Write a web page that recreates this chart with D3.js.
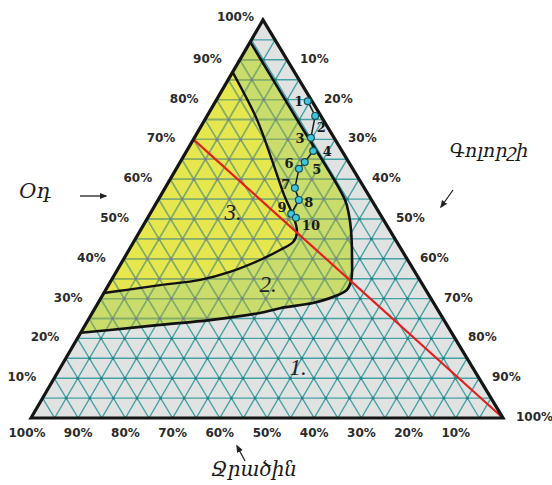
<!DOCTYPE html>
<html>
<head>
<meta charset="utf-8">
<script src="https://cdn.jsdelivr.net/npm/d3@7"></script>
<style>
  body { margin: 0; background: #fff; }
  svg { display: block; }
</style>
</head>
<body>
<div class="chart"></div>
<script>
// ternary diagram: air (Օդ) / vapour (Գոլորշի) / water (Ջրածին), values in %
var tickValues = [10, 20, 30, 40, 50, 60, 70, 80, 90, 100];
var bottomTicks = [100, 90, 80, 70, 60, 50, 40, 30, 20, 10];

// samples 1..10
var sampleNames = ["1", "2", "3", "4", "5", "6", "7", "8", "9", "10"];
var sampleAir   = [79.6, 75.9, 70.4, 67.1, 64.3, 62.6, 57.8, 54.8, 51.3, 50.3];
var sampleVapor = [19.5, 22.9, 24.7, 26.8, 26.4, 26.0, 27.5, 29.8, 29.9, 31.4];

// outer border of zone 2
var outerAir   = [94.5, 75, 54.8, 51.0, 47.2, 40.5, 34.7, 32.2, 30.4, 28.9, 27.6, 26.4, 24.6, 23.4, 22.1, 21.4];
var outerVapor = [0, 19.5, 39.6, 42.3, 44.6, 48.1, 50.8, 51.1, 49.0, 45.5, 39.2, 35.5, 25.8, 15.8, 5.9, 0];

// border of zone 3
var innerAir   = [86.9, 74.9, 64.8, 56.0, 51.0, 46.7, 44.2, 42.2, 39.7, 36.7, 34.7, 33.4, 32.2, 31.4];
var innerVapor = [0, 11.1, 19.2, 26.1, 30.4, 33.4, 33.8, 32.0, 29.0, 24.1, 18.8, 10.9, 4.5, 0];

// red line
var redAir = [70, 0];
var redVapor = [0, 100];

// zone labels
var zoneNames = ["1.", "2.", "3."];
var zoneAir   = [12.6, 33.4, 51.5];
var zoneVapor = [50.4, 33.8, 17.5];

var svgWidth = 552, svgHeight = 485;

var svg = d3.select(".chart").append("svg")
  .attr("width", svgWidth)
  .attr("height", svgHeight);

// corner positions: L (water 100), A (air 100), R (vapour 100)
var yScale = d3.scaleLinear().domain([0, 100]).range([418, 20]);
var xAir = d3.scaleLinear().domain([0, 100]).range([31, 263]);
var xVap = d3.scaleLinear().domain([0, 100]).range([0, 472]);

function px(a, v) { return [xAir(a) + xVap(v), yScale(a)]; }

var corners = [px(0, 0), px(100, 0), px(0, 100)];

var defs = svg.append("defs");
defs.append("clipPath").attr("id", "triClip")
  .append("path").attr("d", "M" + corners.join("L") + "Z");

var curve = d3.line().curve(d3.curveCatmullRom.alpha(0.5));
var outerPts = outerAir.map(function(a, i) { return px(a, outerVapor[i]); });
var innerPts = innerAir.map(function(a, i) { return px(a, innerVapor[i]); });

defs.append("clipPath").attr("id", "zoneClip")
  .append("path").attr("d", curve(outerPts) + "Z");

// background
svg.append("path")
  .attr("d", "M" + corners.join("L") + "Z")
  .attr("fill", "#e1e2e2");

svg.append("path").attr("d", curve(outerPts) + "Z").attr("fill", "#c9dc6c");
svg.append("path").attr("d", curve(innerPts) + "Z").attr("fill", "#e6e64f");

// grid lines every 5%
var gridLines = [];
for (var k = 5; k < 100; k += 5) {
  gridLines.push([px(k, 0), px(k, 100 - k)]);          // const air
  gridLines.push([px(0, k), px(100 - k, k)]);          // const vapour
  gridLines.push([px(0, 100 - k), px(100 - k, 0)]);    // const water
}
var nodes = [];
for (var a = 5; a < 100; a += 5) {
  for (var v = 5; v < 100 - a; v += 5) nodes.push(px(a, v));
}

function drawGrid(clip, col, nodeCol) {
  var g = svg.append("g").attr("clip-path", "url(#" + clip + ")");
  g.selectAll("line").data(gridLines).enter().append("line")
    .attr("x1", function(d) { return d[0][0]; })
    .attr("y1", function(d) { return d[0][1]; })
    .attr("x2", function(d) { return d[1][0]; })
    .attr("y2", function(d) { return d[1][1]; })
    .attr("stroke", col)
    .attr("stroke-width", 1.4);
  g.selectAll("circle").data(nodes).enter().append("circle")
    .attr("cx", function(d) { return d[0]; })
    .attr("cy", function(d) { return d[1]; })
    .attr("r", 1.5)
    .attr("fill", nodeCol);
}
drawGrid("triClip", "#45a2a4", "#2f7f85");
drawGrid("zoneClip", "#8fae5c", "#7d7d8c");

// zone borders
svg.append("path").attr("d", curve(outerPts))
  .attr("fill", "none").attr("stroke", "#111").attr("stroke-width", 2.6);
svg.append("path").attr("d", curve(innerPts))
  .attr("fill", "none").attr("stroke", "#111").attr("stroke-width", 2.4);

// red line
svg.append("line")
  .attr("x1", px(redAir[0], redVapor[0])[0]).attr("y1", px(redAir[0], redVapor[0])[1])
  .attr("x2", px(redAir[1], redVapor[1])[0]).attr("y2", px(redAir[1], redVapor[1])[1])
  .attr("stroke", "#e3201e").attr("stroke-width", 2.2);

// triangle frame
svg.append("path")
  .attr("d", "M" + corners.join("L") + "Z")
  .attr("fill", "none").attr("stroke", "#151515")
  .attr("stroke-width", 3.2).attr("stroke-linejoin", "miter");

// samples
var samplePts = sampleAir.map(function(a, i) { return px(a, sampleVapor[i]); });
svg.append("path").attr("d", d3.line()(samplePts))
  .attr("fill", "none").attr("stroke", "#1a1a1a").attr("stroke-width", 1.5);
svg.selectAll(".pt").data(samplePts).enter().append("circle")
  .attr("class", "pt")
  .attr("cx", function(d) { return d[0]; })
  .attr("cy", function(d) { return d[1]; })
  .attr("r", 3.4)
  .attr("fill", "#3fc6dc").attr("stroke", "#16505e").attr("stroke-width", 1.2);

var numOffsets = [[-9, 0], [6, 12], [-11, 1], [14, 1], [12, 7], [-10, -5], [-9, -3], [10, 3], [-9, -6], [15, 8]];
svg.selectAll(".num").data(sampleNames).enter().append("text")
  .attr("class", "num")
  .attr("x", function(d, i) { return samplePts[i][0] + numOffsets[i][0]; })
  .attr("y", function(d, i) { return samplePts[i][1] + numOffsets[i][1] + 4.5; })
  .attr("text-anchor", "middle")
  .style("font-family", "DejaVu Serif, serif")
  .style("font-weight", "bold")
  .style("font-size", "13px")
  .attr("fill", "#1a1a1a")
  .text(function(d) { return d; });

// zone labels
svg.selectAll(".zone").data(zoneNames).enter().append("text")
  .attr("class", "zone")
  .attr("x", function(d, i) { return px(zoneAir[i], zoneVapor[i])[0]; })
  .attr("y", function(d, i) { return px(zoneAir[i], zoneVapor[i])[1] + 7; })
  .attr("text-anchor", "middle")
  .style("font-family", "Liberation Serif, serif")
  .style("font-style", "italic")
  .style("font-size", "23px")
  .attr("fill", "#222")
  .text(function(d) { return d; });

// tick labels
var tickStyle = function(sel) {
  sel.style("font-family", "DejaVu Sans, sans-serif")
    .style("font-weight", "bold")
    .style("font-size", "12px")
    .attr("fill", "#2a2a2a");
};
svg.selectAll(".lt").data(tickValues).enter().append("text")
  .attr("class", "lt")
  .attr("x", function(d) { return px(d, 0)[0] - (d === 100 ? 9 : 18); })
  .attr("y", function(d) { return px(d, 0)[1] + (d === 100 ? 1 : 3); })
  .attr("text-anchor", "end")
  .text(function(d) { return d + "%"; })
  .call(tickStyle);
svg.selectAll(".rt").data(tickValues).enter().append("text")
  .attr("class", "rt")
  .attr("x", function(d) { return px(100 - d, d)[0] + 13; })
  .attr("y", function(d) { return px(100 - d, d)[1] + 3; })
  .attr("text-anchor", "start")
  .text(function(d) { return d + "%"; })
  .call(tickStyle);
svg.selectAll(".bt").data(bottomTicks).enter().append("text")
  .attr("class", "bt")
  .attr("x", function(d) { return px(0, 100 - d)[0] - (d === 100 ? 4 : 0); })
  .attr("y", 437)
  .attr("text-anchor", "middle")
  .text(function(d) { return d + "%"; })
  .call(tickStyle);

// axis names with arrows
defs.append("marker").attr("id", "arr")
  .attr("viewBox", "0 0 10 10").attr("refX", 8).attr("refY", 5)
  .attr("markerWidth", 6).attr("markerHeight", 6).attr("orient", "auto")
  .append("path").attr("d", "M0,1L10,5L0,9Z").attr("fill", "#222");

function arrow(x1, y1, x2, y2) {
  svg.append("line").attr("x1", x1).attr("y1", y1).attr("x2", x2).attr("y2", y2)
    .attr("stroke", "#222").attr("stroke-width", 1.3)
    .attr("marker-end", "url(#arr)");
}
function title(x, y, t, size) {
  svg.append("text").attr("x", x).attr("y", y)
    .attr("text-anchor", "middle")
    .style("font-family", "DejaVu Serif, DejaVu Sans, serif")
    .style("font-style", "italic")
    .style("font-size", size + "px")
    .attr("fill", "#1a1a1a")
    .text(t);
}
title(35, 198, "Օդ", 21);
arrow(80, 196, 106, 196);
title(489, 157, "Գոլորշի", 19);
arrow(453, 190, 441, 207);
title(254, 476, "Ջրածին", 20);
arrow(245, 461, 237, 446);
</script>
</body>
</html>
